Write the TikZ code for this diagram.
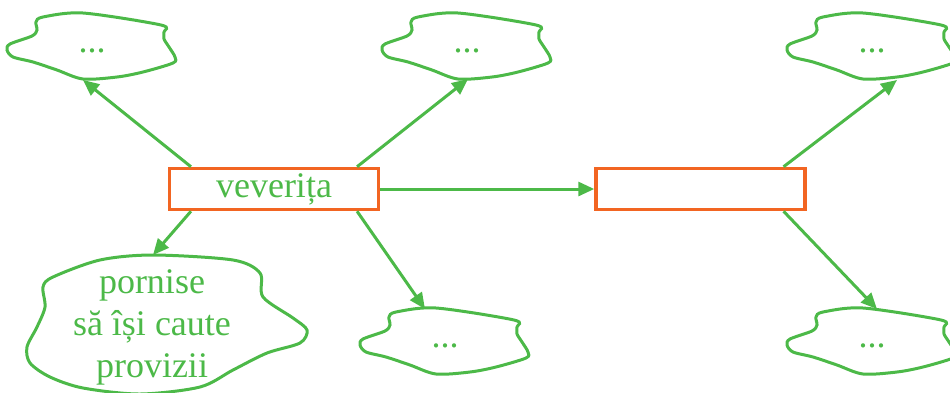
\documentclass[tikz,border=0pt]{standalone}
\usepackage{fontspec}
\setmainfont{Liberation Serif}
\usetikzlibrary{arrows.meta}
\definecolor{leafgreen}{RGB}{76,185,72}
\definecolor{boxorange}{RGB}{242,101,34}

\begin{document}
\begin{tikzpicture}[x=1pt,y=-1pt,
  every node/.style={text=leafgreen,font=\fontsize{36}{42}\selectfont},
  box/.style={draw=boxorange,line width=3.5pt,minimum width=209pt,minimum height=41pt,inner sep=0pt},
  link/.style={draw=leafgreen,line width=3pt,-{Triangle[length=16pt,width=14pt]}},
  edge/.style={leafgreen,line width=3pt},
  blob/.pic={\draw[edge] plot[smooth cycle] coordinates {(-85,3) (-79,10) (-59,15) (-35,23) (-9,32) (25,30) (51,25) (81,16) (83,10) (77,0) (72,-8) (72,-15) (69,-22) (-9,-34) (-49,-30) (-56,-25) (-55,-17) (-60,-11) (-82,-3)};}]
\useasboundingbox (0,0) rectangle (950,392);
\clip (0,0) rectangle (950,392);
% small clouds
\pic at (92,47) {blob};
\pic at (467,47) {blob};
\pic at (872,47) {blob};
\pic at (445,342) {blob};
\pic at (872,342) {blob};
\node (tl) at (92,51) {...};
\node (tm) at (467,51) {...};
\node (tr) at (872,51) {...};
\node (bm) at (445,346) {...};
\node (br) at (872,346) {...};
% big cloud
\draw [edge] plot[smooth cycle] coordinates {(153,255) (100,260) (53,277) (43,287) (45,307) (37,327) (27,347) (30,363) (50,377) (83,388) (140,394) (200,387) (233,370) (267,353) (300,343) (307,330) (293,318) (263,297) (260,273) (233,260)};
\node (bl) [align=center] at (152,327) {pornise\\să își caute\\provizii};
% arrow ends on the clouds
\coordinate (tltip) at (83,80);
\coordinate (tmtip) at (468,79);
\coordinate (trtip) at (897,80);
\coordinate (bltip) at (153,255);
\coordinate (bmtip) at (425,309);
\coordinate (brtip) at (877,309);
% boxes
\node (vev) [box] at (274,189) {veverița};
\node (gap) [box] at (700.5,189) {};
\draw [link] (vev.165) -- (tltip);
\draw [link] (vev.15) -- (tmtip);
\draw [link] (vev.195) -- (bltip);
\draw [link] (vev.345) -- (bmtip);
\draw [link] (vev.east) -- (gap.west);
\draw [link] (gap.15) -- (trtip);
\draw [link] (gap.345) -- (brtip);
\end{tikzpicture}
\end{document}
